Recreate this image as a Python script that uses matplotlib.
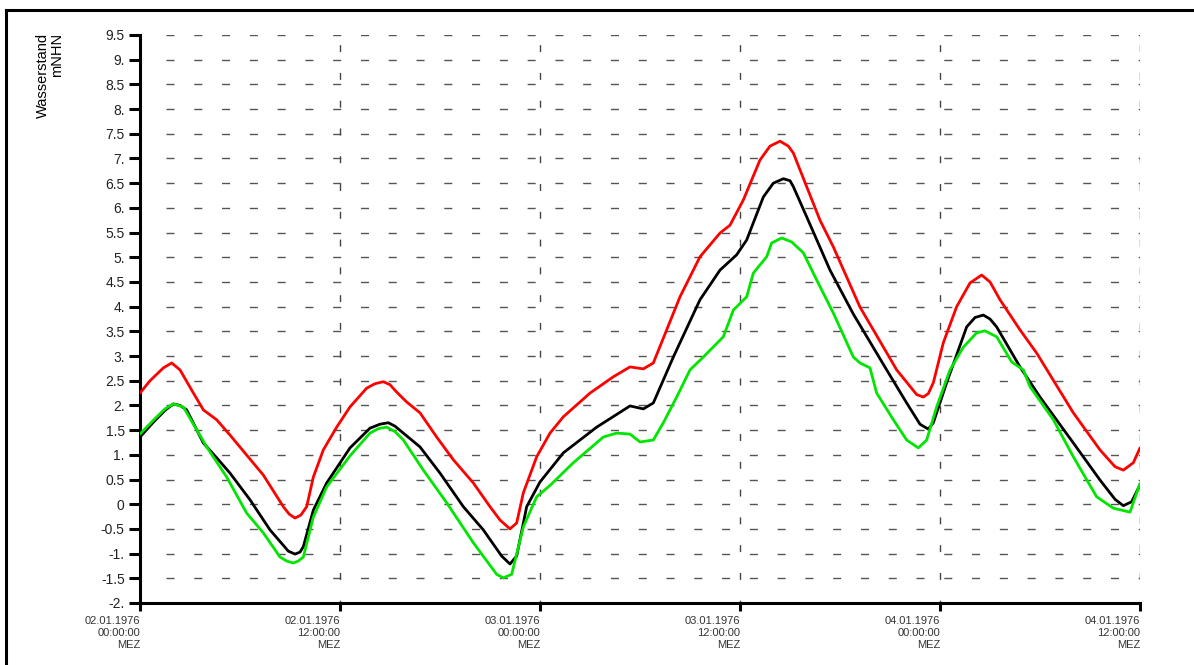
import matplotlib
matplotlib.use("Agg")
import matplotlib.pyplot as plt
from matplotlib.lines import Line2D

plt.rcParams["font.family"] = ["Liberation Sans", "DejaVu Sans"]

# hours since 02.01.1976 00:00 MEZ
RED_H = [0, 0.6, 1.4, 1.9, 2.4, 3.1, 3.8, 4.6, 5.4, 7.4, 8.6, 8.95, 9.3, 9.65,
         10.0, 10.4, 11.0, 11.8, 12.6, 13.6, 14.1, 14.6, 15.0, 15.4, 16.0, 16.8,
         17.8, 18.8, 20.0, 21.0, 21.6, 22.2, 22.6, 23.0, 23.8, 24.6, 25.4, 27.0,
         28.4, 29.4, 30.2, 30.8, 31.6, 32.4, 33.6, 34.8, 35.4, 36.2, 37.2, 37.8,
         38.4, 38.9, 39.2, 39.6, 40.8, 41.6, 43.2, 44.0, 45.4, 46.6, 47.0, 47.3,
         47.6, 48.2, 49.0, 49.8, 50.5, 51.0, 51.6, 52.8, 53.8, 56.0, 57.6, 58.5,
         59.0, 59.6, 60.0]
RED_V = [2.25, 2.50, 2.76, 2.86, 2.72, 2.31, 1.91, 1.71, 1.40, 0.59, -0.05,
         -0.20, -0.28, -0.22, -0.05, 0.55, 1.10, 1.56, 1.97, 2.35, 2.44, 2.48,
         2.42, 2.27, 2.07, 1.85, 1.36, 0.90, 0.43, -0.05, -0.32, -0.50, -0.38,
         0.23, 0.96, 1.44, 1.77, 2.25, 2.58, 2.78, 2.74, 2.86, 3.53, 4.20, 5.01,
         5.49, 5.65, 6.16, 6.97, 7.25, 7.35, 7.25, 7.11, 6.77, 5.75, 5.21, 3.99,
         3.53, 2.72, 2.22, 2.17, 2.24, 2.46, 3.27, 4.00, 4.48, 4.64, 4.50, 4.14,
         3.53, 3.06, 1.85, 1.10, 0.76, 0.69, 0.84, 1.14]

BLACK_H = [0, 0.8, 1.5, 2.0, 2.4, 2.8, 3.8, 4.6, 5.4, 6.6, 7.8, 8.9, 9.3, 9.6,
           9.8, 10.4, 11.2, 12.6, 13.8, 14.4, 14.9, 15.3, 15.8, 16.8, 18.0, 19.4,
           20.6, 21.7, 22.2, 22.6, 23.2, 24.0, 25.4, 27.4, 29.4, 30.2, 30.8,
           32.0, 33.6, 34.8, 35.8, 36.4, 37.4, 38.0, 38.6, 39.0, 39.2, 40.0,
           41.4, 42.8, 44.8, 46.0, 46.8, 47.3, 47.6, 48.4, 49.6, 50.1, 50.6,
           51.0, 51.4, 52.8, 54.0, 56.0, 57.6, 58.5, 59.0, 59.5, 60.0]
BLACK_V = [1.36, 1.66, 1.90, 2.03, 2.00, 1.91, 1.24, 0.94, 0.63, 0.09, -0.52,
           -0.95, -1.01, -0.97, -0.86, -0.12, 0.43, 1.14, 1.54, 1.62, 1.65,
           1.58, 1.44, 1.16, 0.63, -0.05, -0.52, -1.05, -1.21, -1.05, -0.05,
           0.45, 1.04, 1.56, 1.99, 1.93, 2.05, 2.98, 4.14, 4.74, 5.05, 5.35,
           6.22, 6.50, 6.59, 6.55, 6.43, 5.82, 4.74, 3.85, 2.72, 2.05, 1.62,
           1.52, 1.65, 2.46, 3.59, 3.78, 3.83, 3.75, 3.59, 2.78, 2.17, 1.24,
           0.49, 0.10, -0.03, 0.05, 0.39]

GREEN_H = [0, 0.8, 1.5, 2.0, 2.6, 4.0, 5.2, 6.4, 7.4, 8.4, 8.8, 9.2, 9.5, 9.8,
           10.4, 11.2, 12.6, 13.8, 14.3, 14.8, 15.3, 15.8, 17.0, 18.4, 20.0,
           21.4, 21.8, 22.3, 23.0, 23.8, 24.6, 26.0, 27.8, 28.6, 29.4, 30.0,
           30.8, 31.4, 32.2, 33.0, 33.8, 35.0, 35.6, 36.4, 36.8, 37.6, 37.9,
           38.5, 39.1, 39.8, 40.6, 41.6, 42.8, 43.2, 43.8, 44.2, 45.2, 46.0,
           46.7, 47.2, 47.8, 48.6, 49.4, 50.2, 50.7, 51.4, 52.3, 53.0, 53.4,
           54.8, 56.0, 57.4, 58.4, 59.4, 60.0]
GREEN_V = [1.42, 1.70, 1.93, 2.03, 1.97, 1.16, 0.55, -0.18, -0.58, -1.07,
           -1.15, -1.19, -1.15, -1.07, -0.26, 0.35, 0.98, 1.44, 1.53, 1.56,
           1.47, 1.30, 0.69, 0.03, -0.78, -1.42, -1.49, -1.42, -0.46, 0.15,
           0.38, 0.84, 1.36, 1.44, 1.42, 1.26, 1.30, 1.65, 2.17, 2.72, 2.98,
           3.39, 3.93, 4.20, 4.68, 5.01, 5.29, 5.39, 5.31, 5.09, 4.54, 3.87,
           2.98, 2.86, 2.76, 2.25, 1.71, 1.30, 1.14, 1.30, 1.97, 2.72, 3.18,
           3.47, 3.51, 3.39, 2.88, 2.72, 2.38, 1.71, 0.96, 0.15, -0.08, -0.16,
           0.42]

X_TICKS = [0, 12, 24, 36, 48, 60]
X_LABELS = ["02.01.1976\n00:00:00\nMEZ", "02.01.1976\n12:00:00\nMEZ",
            "03.01.1976\n00:00:00\nMEZ", "03.01.1976\n12:00:00\nMEZ",
            "04.01.1976\n00:00:00\nMEZ", "04.01.1976\n12:00:00\nMEZ"]
Y_TICKS = [-2, -1.5, -1, -0.5, 0, 0.5, 1, 1.5, 2, 2.5, 3, 3.5, 4, 4.5, 5,
           5.5, 6, 6.5, 7, 7.5, 8, 8.5, 9, 9.5]
Y_LABELS = ["-2.", "-1.5", "-1.", "-0.5", "0", "0.5", "1.", "1.5", "2.", "2.5",
            "3.", "3.5", "4.", "4.5", "5.", "5.5", "6.", "6.5", "7.", "7.5",
            "8.", "8.5", "9.", "9.5"]

W, H = 1194, 665
fig = plt.figure(figsize=(W / 100, H / 100), dpi=100)
ax = fig.add_axes([140 / W, 62 / H, 1000 / W, 568 / H])
ax.set_xlim(0, 60)
ax.set_ylim(-2, 9.5)

# grid: short dashes
px_h = 60 / 1000.0
ax.hlines(Y_TICKS[1:], 26 * px_h, 60, colors="#555555", lw=1.0,
          linestyles=[(0, (5.8, 14.2))], zorder=1)
ax.vlines(X_TICKS[1:], -2, 9.5, colors="#444444", lw=1.0,
          linestyles=[(3, (5.0, 15.0))], zorder=1)

kw = dict(lw=2.0, solid_joinstyle="round", solid_capstyle="round")
ax.plot(RED_H, RED_V, color="#ff0000", zorder=3, **kw)
ax.plot(BLACK_H, BLACK_V, color="black", zorder=4, **kw)
ax.plot(GREEN_H, GREEN_V, color="#00e600", zorder=5, **kw)

for s in ["top", "right"]:
    ax.spines[s].set_visible(False)
for s in ["left", "bottom"]:
    ax.spines[s].set_linewidth(2.2)

ax.set_yticks(Y_TICKS)
ax.set_yticklabels(Y_LABELS, fontsize=10, color="#222222")
ax.set_xticks(X_TICKS)
ax.set_xticklabels(X_LABELS, fontsize=8, color="#333333", ha="right",
                   multialignment="right", linespacing=1.3)
ax.tick_params(axis="y", length=8, width=2.2, pad=3)
ax.tick_params(axis="x", length=6, width=2.2, pad=3)

fig.text(50 / W, 1 - 33 / H, "Wasserstand\nmNHN", rotation=90, fontsize=10.5,
         ha="center", va="top", multialignment="right", linespacing=1.0)

# outer frame (top and left edges)
fig.add_artist(Line2D([6 / W, 1], [1 - 10 / H, 1 - 10 / H], color="black", lw=2.2))
fig.add_artist(Line2D([6 / W, 6 / W], [0, 1 - 10 / H], color="black", lw=2.2))

fig.savefig("out.png", dpi=100)
